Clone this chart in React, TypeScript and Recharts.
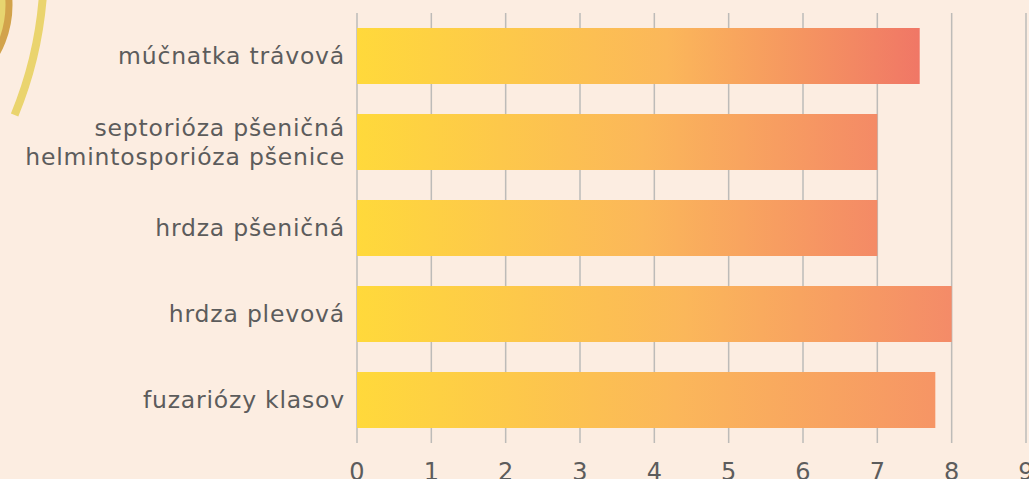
import { BarChart, Bar, XAxis, YAxis, CartesianGrid, Cell } from "recharts";

const categories = [
  "múčnatka trávová",
  "septorióza pšeničná\nhelmintosporióza pšenice",
  "hrdza pšeničná",
  "hrdza plevová",
  "fuzariózy klasov",
];
const values = [7.57, 7.0, 7.0, 8.0, 7.78];
const xTicks = [0, 1, 2, 3, 4, 5, 6, 7, 8, 9];

// end colour of each bar's gradient
const endColors = ["#F07766", "#F48A66", "#F48A66", "#F48B68", "#F69565"];

const data = categories.map((name, i) => ({ name, value: values[i] }));

const font = "'DejaVu Sans', sans-serif";

function YTick({ x, y, payload }: any) {
  const lines = String(payload.value).split("\n");
  const lh = 29;
  const start = -((lines.length - 1) * lh) / 2;
  return (
    <text
      x={x}
      y={y}
      textAnchor="end"
      fill="#5C5C5C"
      fontSize={23.5}
      letterSpacing={0.8}
      fontFamily={font}
    >
      {lines.map((l, i) => (
        <tspan key={i} x={x} y={y + start + i * lh} dy="0.36em">
          {l}
        </tspan>
      ))}
    </text>
  );
}

function XTick({ x, y, payload }: any) {
  return (
    <text
      x={x}
      y={y}
      dy={37}
      textAnchor="middle"
      fill="#5C5C5C"
      fontSize={24}
      fontFamily={font}
    >
      {payload.value}
    </text>
  );
}

export default function App() {
  return (
    <div
      style={{
        position: "absolute",
        left: 0,
        top: 0,
        width: 1029,
        height: 479,
        background: "#FCEDE1",
        overflow: "hidden",
      }}
    >
      <svg
        width={1029}
        height={479}
        style={{ position: "absolute", left: 0, top: 0 }}
      >
        <circle cx={-90} cy={5} r={99} fill="#E7D56F" stroke="#D2A34B" strokeWidth={7} />
        <path
          d="M 43.3 -10 A 392 392 0 0 1 14.6 115"
          fill="none"
          stroke="#EAD46E"
          strokeWidth={8}
        />
      </svg>
      <div style={{ position: "absolute", left: 0, top: 0 }}>
        <BarChart
          width={1029}
          height={479}
          data={data}
          layout="vertical"
          margin={{ top: 13, right: 3, bottom: 0, left: 0 }}
          barCategoryGap={15}
        >
          <defs>
            {endColors.map((c, i) => (
              <linearGradient key={i} id={`g${i}`} x1="0" y1="0" x2="1" y2="0">
                <stop offset="0%" stopColor="#FFD93B" />
                <stop offset="55%" stopColor="#FBB75A" />
                <stop offset="100%" stopColor={c} />
              </linearGradient>
            ))}
          </defs>
          <CartesianGrid horizontal={false} stroke="#BDBBB8" strokeWidth={1.5} />
          <XAxis
            type="number"
            domain={[0, 9]}
            ticks={xTicks}
            axisLine={false}
            tickLine={false}
            tickSize={0}
            tickMargin={0}
            height={36}
            tick={<XTick />}
            interval={0}
          />
          <YAxis
            type="category"
            dataKey="name"
            width={357}
            axisLine={false}
            tickLine={false}
            tickSize={0}
            tickMargin={12}
            tick={<YTick />}
            interval={0}
          />
          <Bar dataKey="value" isAnimationActive={false}>
            {data.map((_, i) => (
              <Cell key={i} fill={`url(#g${i})`} />
            ))}
          </Bar>
        </BarChart>
      </div>
    </div>
  );
}
